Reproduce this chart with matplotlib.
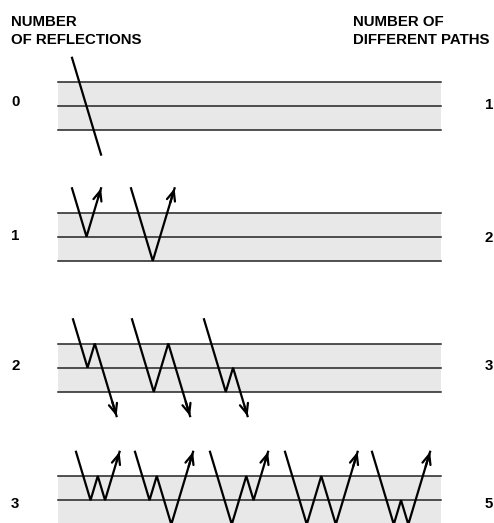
import matplotlib.pyplot as plt

plt.rcParams['font.family'] = ['Liberation Sans', 'DejaVu Sans']

# data
reflections = [0, 1, 2, 3]
n_paths = [1, 2, 3, 5]
# each path = list of surfaces it touches: -1 above plate, 0 top, 1 middle, 2 bottom, 3 below plate
paths = [
    [[-1, 3]],
    [[-1, 1, -1], [-1, 2, -1]],
    [[-1, 1, 0, 3], [-1, 2, 0, 3], [-1, 2, 1, 3]],
    [[-1, 1, 0, 1, -1], [-1, 1, 0, 2, -1], [-1, 2, 0, 1, -1],
     [-1, 2, 0, 2, -1], [-1, 2, 1, 2, -1]],
]

# layout (pixels)
panel_top = [82, 212.5, 343.5, 476]
start_x = [[72], [72, 131], [73, 132, 204], [76, 135, 210, 285, 372]]
left_lab_y = [101.5, 235.5, 365.5, 504]
right_lab_y = [105, 238, 366.5, 504]
layer = 24.2
slope = 0.3   # dx per dy
plate_x0, plate_x1 = 58, 441

fig = plt.figure(figsize=(4.94, 5.23), dpi=100)
ax = fig.add_axes([0, 0, 1, 1])
ax.set_xlim(0, 494)
ax.set_ylim(523, 0)
ax.axis('off')

for i, top in enumerate(panel_top):
    ax.fill_between([plate_x0, plate_x1], top, top + 2 * layer, color='#e8e8e8', lw=0, zorder=1)
    for k in range(3):
        y = top + k * layer
        ax.plot([plate_x0, plate_x1], [y, y], color='#222222', lw=1.1, zorder=2)

    for p, x0 in zip(paths[i], start_x[i]):
        xs, ys = [x0], [top + p[0] * layer]
        for lev in p[1:]:
            y = top + lev * layer
            xs.append(xs[-1] + slope * abs(y - ys[-1]))
            ys.append(y)
        ax.plot(xs, ys, color='black', lw=1.6, solid_joinstyle='miter', zorder=3)
        if reflections[i] > 0:
            dx, dy = xs[-1] - xs[-2], ys[-1] - ys[-2]
            ax.annotate('', xy=(xs[-1], ys[-1]), xytext=(xs[-1] - 0.2 * dx, ys[-1] - 0.2 * dy),
                        arrowprops=dict(arrowstyle='->,head_length=0.7,head_width=0.3',
                                        lw=1.6, color='black', shrinkA=0, shrinkB=0,
                                        mutation_scale=10), zorder=4)

    ax.text(11, left_lab_y[i], str(reflections[i]), fontsize=10.8, fontweight='bold',
            ha='left', va='center')
    ax.text(493, right_lab_y[i], str(n_paths[i]), fontsize=10.8, fontweight='bold',
            ha='right', va='center')

ax.text(11, 26, 'NUMBER', fontsize=10.8, fontweight='bold', ha='left', va='baseline')
ax.text(11, 44.5, 'OF REFLECTIONS', fontsize=10.8, fontweight='bold', ha='left', va='baseline')
ax.text(353, 26, 'NUMBER OF', fontsize=10.8, fontweight='bold', ha='left', va='baseline')
ax.text(353, 44.5, 'DIFFERENT PATHS', fontsize=10.8, fontweight='bold', ha='left', va='baseline')

fig.savefig('out.png', dpi=100)
